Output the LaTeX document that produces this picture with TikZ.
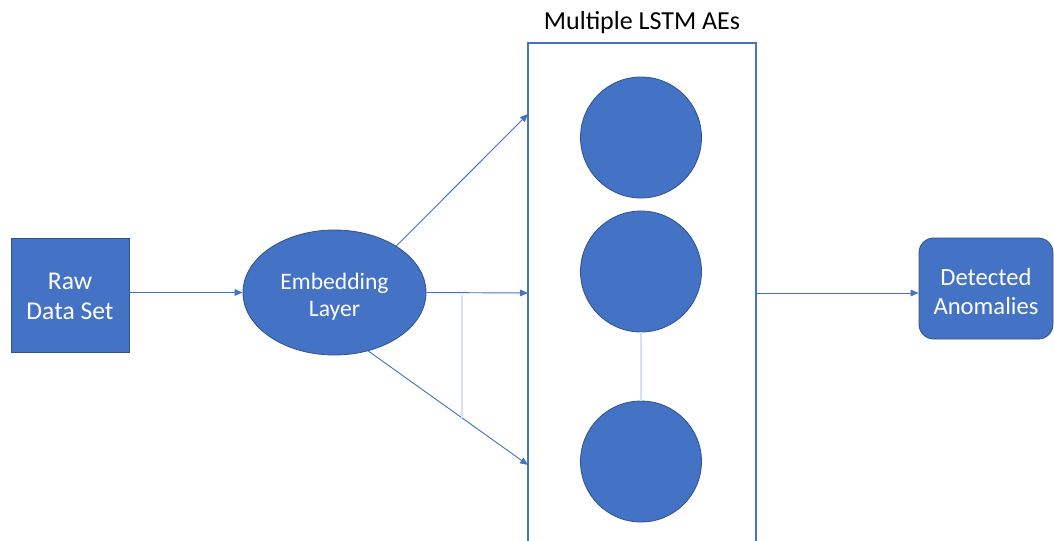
\documentclass[tikz,border=0pt]{standalone}
\usepackage{fontspec}
\setmainfont{Carlito}
\usetikzlibrary{shapes.geometric,arrows.meta}
\definecolor{accent}{HTML}{4472C4}
\definecolor{accentdark}{HTML}{2F528F}
\definecolor{faint}{HTML}{D6E0F2}
\begin{document}
\begin{tikzpicture}[x=0.75pt,y=-0.75pt,
  block/.style={draw=accentdark,line width=0.6pt,fill=accent,inner sep=0pt},
  inner/.style={text=white,align=center,inner sep=0pt},
  link/.style={draw=accent,line width=0.7pt,-{Triangle[length=6pt,width=5pt]}},
  ghost/.style={draw=faint,line width=1.1pt}]
\clip (0,0) rectangle (1054,540);
\useasboundingbox (0,0) rectangle (1054,540);

% input and embedding
\node[block,minimum width=88.5pt,minimum height=85.5pt,
  label={[inner,yshift=-1pt,font=\fontsize{19.2}{22.5}\selectfont]center:Raw\\Data Set}] (raw) at (70,295) {};
\node[block,ellipse,minimum width=137.25pt,minimum height=93.75pt,
  label={[inner,yshift=-3pt,font=\fontsize{17.7}{20.5}\selectfont]center:Embedding\\Layer}] (emb) at (334.5,292.5) {};

% container of the autoencoders
\node[draw=accent,line width=1.1pt,minimum width=171pt,minimum height=387.75pt,inner sep=0pt] (lstm) at (642,301.5) {};
\node[anchor=base,font=\fontsize{19.5}{22}\selectfont] (title) at (642,29) {Multiple LSTM AEs};
\node[block,circle,minimum size=90.75pt] (ae1) at (641,137.5) {};
\node[block,circle,minimum size=90.75pt] (ae2) at (641,271.5) {};
\node[block,circle,minimum size=90.75pt] (ae3) at (641,461.5) {};
\draw[ghost] (ae2.south) -- (ae3.north);

% output
\node[block,rounded corners=11pt,minimum width=100.5pt,minimum height=75.75pt,
  label={[inner,yshift=-2.2pt,font=\fontsize{18.5}{22}\selectfont]center:Detected\\Anomalies}] (det) at (986,288.5) {};

% entry and exit points on the container
\coordinate (inTop) at (528,114);
\coordinate (inMid) at (528,293);
\coordinate (inBot) at (528,465);
\coordinate (out) at (756,293);
\coordinate (g1) at (462,295);
\coordinate (g2) at (462,418);

% connectors
\draw[link] (raw.east |- emb) -- (emb.west);
\draw[link] (emb.37) -- (inTop);
\draw[link] (emb.east) -- (inMid);
\draw[link] (emb.-60) -- (inBot);
\draw[link] (out) -- (out -| det.west);
\draw[ghost] (g1) -- (g2);
\end{tikzpicture}
\end{document}
